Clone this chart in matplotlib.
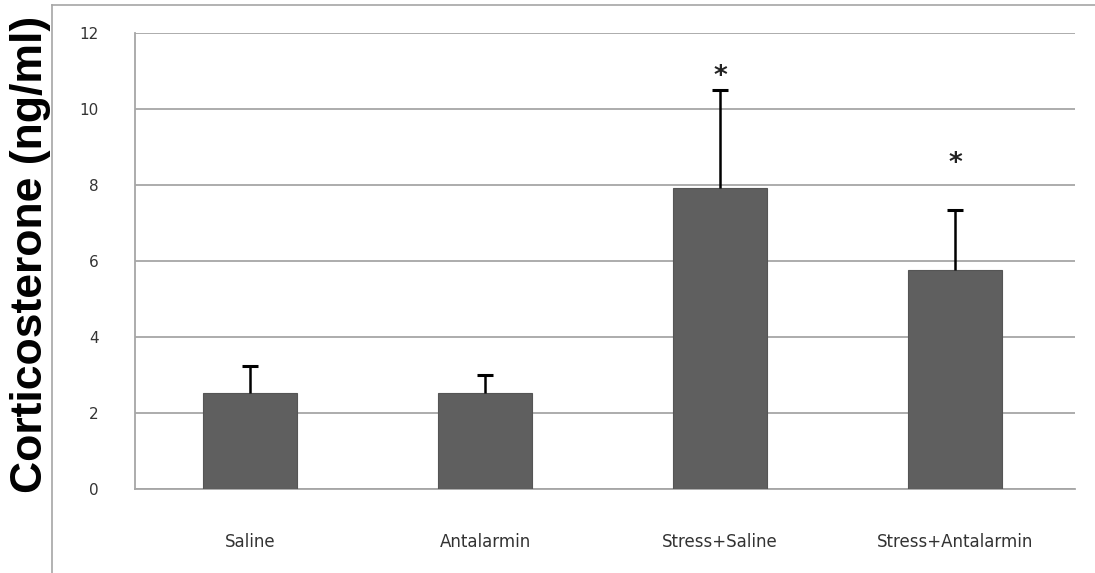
import matplotlib.pyplot as plt
from matplotlib.lines import Line2D

groups = ["Saline", "Antalarmin", "Stress+Saline", "Stress+Antalarmin"]
means = [2.53, 2.53, 7.92, 5.76]
errors = [0.71, 0.47, 2.58, 1.58]
stars = ["", "", "*", "*"]
star_y = [0, 0, 10.85, 8.55]

fig = plt.figure(figsize=(10.95, 5.73), dpi=100)
ax = fig.add_axes([0.1233, 0.1466, 0.8584, 0.7958])

x = list(range(len(groups)))
tops = [m + e for m, e in zip(means, errors)]
ax.bar(x, means, width=0.40, color="#5f5f5f", edgecolor="#555555", linewidth=0.8, zorder=3)
# upper-only error bars
ax.vlines(x, means, tops, color="black", linewidth=1.8, zorder=4)
ax.plot(x, tops, linestyle="none", marker="_", markersize=12, markeredgewidth=2.2,
        color="black", zorder=4)
for xi, s, sy in zip(x, stars, star_y):
    if s:
        ax.text(xi, sy, s, ha="center", va="center", fontsize=19, fontweight="bold",
                color="#222222")

ax.set_xlim(-0.49, 3.51)
ax.set_ylim(0, 12)
ax.set_yticks(range(0, 13, 2))
ax.yaxis.grid(True, color="#a6a6a6", linewidth=1.3, zorder=0)
ax.set_xticks(x)
ax.set_xticklabels(groups, fontsize=12, color="#333333", family="DejaVu Sans")
ax.tick_params(axis="x", length=0, pad=32)
ax.tick_params(axis="y", length=0, pad=26, labelsize=11, labelcolor="#333333")
for side in ["top", "right"]:
    ax.spines[side].set_visible(False)
for side in ["left", "bottom"]:
    ax.spines[side].set_color("#a6a6a6")
    ax.spines[side].set_linewidth(1.3)

fig.text(0.028, 0.556, "Corticosterone (ng/ml)", rotation=90, ha="center", va="center",
         fontsize=32, fontweight="bold", family="Liberation Sans")

# outer frame
fig.add_artist(Line2D([0.0475, 0.0475], [0.0, 0.991], color="#a6a6a6", lw=1.2,
                      transform=fig.transFigure))
fig.add_artist(Line2D([0.0475, 1.0], [0.991, 0.991], color="#a6a6a6", lw=1.2,
                      transform=fig.transFigure))

fig.savefig("out.png", dpi=100)
